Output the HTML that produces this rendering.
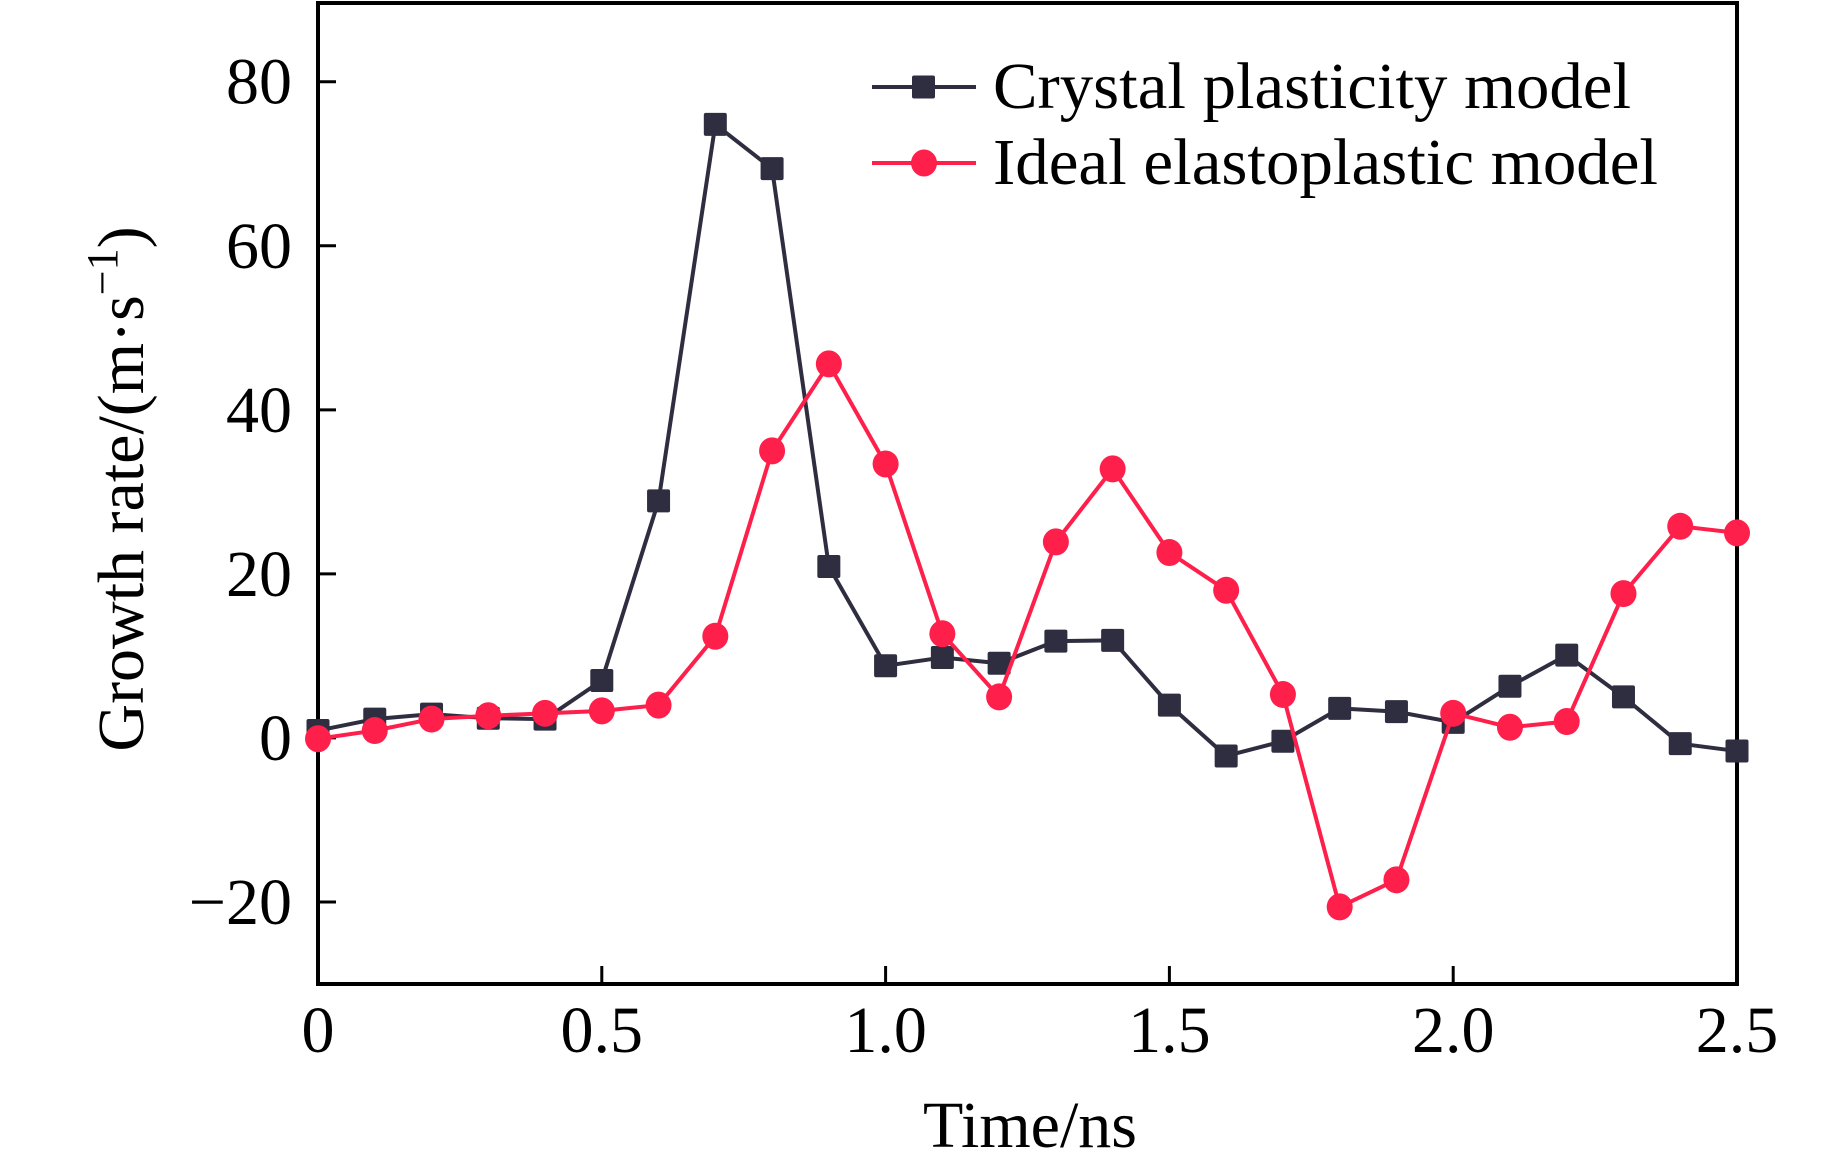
<!DOCTYPE html>
<html><head><meta charset="utf-8"><style>
html,body{margin:0;padding:0;background:#fff;}
svg{display:block;font-family:"Liberation Serif",serif;}
</style></head><body>
<svg id="chart" width="1843" height="1168" viewBox="0 0 1843 1168">
<g id="plot"></g>
</svg>
<script>
const xVals=[0,0.1,0.2,0.3,0.4,0.5,0.6,0.7,0.8,0.9,1.0,1.1,1.2,1.3,1.4,1.5,1.6,1.7,1.8,1.9,2.0,2.1,2.2,2.3,2.4,2.5];
const crystalVals=[0.9,2.3,2.9,2.4,2.3,7.0,28.9,74.8,69.4,20.9,8.8,9.8,9.1,11.8,11.9,4.0,-2.2,-0.4,3.6,3.2,1.9,6.3,10.1,5.0,-0.7,-1.6];
const idealVals=[-0.1,0.9,2.3,2.7,3.0,3.3,4.0,12.4,35.0,45.6,33.4,12.7,5.0,23.9,32.8,22.6,18.0,5.3,-20.6,-17.3,3.0,1.3,2.0,17.6,25.8,25.0];
const xTicks=[0,0.5,1.0,1.5,2.0,2.5];
const xTickLabels=["0","0.5","1.0","1.5","2.0","2.5"];
const yTicks=[-20,0,20,40,60,80];
const yTickLabels=["\u221220","0","20","40","60","80"];

const L=318,R=1737,T=3,B=984;
const xMin=0,xMax=2.5,yMin=-30,yMax=89.6;
const sx=v=>L+(v-xMin)/(xMax-xMin)*(R-L);
const sy=v=>B-(v-yMin)/(yMax-yMin)*(B-T);
const NS="http://www.w3.org/2000/svg";
const g=document.getElementById('plot');
function mk(tag,attrs,parent){const e=document.createElementNS(NS,tag);for(const k in attrs)e.setAttribute(k,attrs[k]);(parent||g).appendChild(e);return e;}

// frame
const frame=mk('rect',{x:L,y:T,width:R-L,height:B-T,fill:'none',stroke:'#000','stroke-width':4});



// x ticks
xTicks.forEach((t,i)=>{
  const x=sx(t);
  const tk=mk('line',{x1:x,y1:B,x2:x,y2:B-18,stroke:'#000','stroke-width':3});
  
  
  const lb=mk('text',{x:x,y:1052,'font-size':66,'text-anchor':'middle'});
  lb.textContent=xTickLabels[i];
  
  
});
// y ticks
yTicks.forEach((t,i)=>{
  const y=sy(t);
  const tk=mk('line',{x1:L,y1:y,x2:L+18,y2:y,stroke:'#000','stroke-width':3});
  
  
  const lb=mk('text',{x:292,y:y+22,'font-size':66,'text-anchor':'end'});
  lb.textContent=yTickLabels[i];
  
  
});

function series(vals,color,shape,name){
  const pts=vals.map((v,i)=>sx(xVals[i])+','+sy(v)).join(' ');
  const pl=mk('polyline',{points:pts,fill:'none',stroke:color,'stroke-width':4,'stroke-linejoin':'round'});
  
  
  vals.forEach((v,i)=>{
    const x=sx(xVals[i]),y=sy(v);
    let m;
    if(shape==='square'){m=mk('rect',{x:x-11.5,y:y-11.5,width:23,height:23,rx:2,fill:color});}
    else{m=mk('ellipse',{cx:x,cy:y,rx:13,ry:13.5,fill:color});}
    
    
  });
}
series(crystalVals,'#2e2e40','square','crystal-plasticity');
series(idealVals,'#ff1f4b','circle','ideal-elastoplastic');

// legend
const lg=mk('g',{});


const l1=mk('line',{x1:872,y1:87,x2:976,y2:87,stroke:'#2e2e40','stroke-width':4},lg);


const m1=mk('rect',{x:912,y:75.5,width:23,height:23,rx:2,fill:'#2e2e40'},lg);


const t1=mk('text',{x:993,y:108,'font-size':66,textLength:638,lengthAdjust:'spacingAndGlyphs'},lg);
t1.textContent='Crystal plasticity model';


const l2=mk('line',{x1:872,y1:163,x2:976,y2:163,stroke:'#ff1f4b','stroke-width':4},lg);


const m2=mk('ellipse',{cx:924,cy:163,rx:13,ry:13.5,fill:'#ff1f4b'},lg);


const t2=mk('text',{x:993,y:184,'font-size':66,textLength:665,lengthAdjust:'spacingAndGlyphs'},lg);
t2.textContent='Ideal elastoplastic model';



// axis titles
const xt=mk('text',{x:1030,y:1147,'font-size':66,'text-anchor':'middle'});
xt.textContent='Time/ns';


const yt=mk('text',{x:0,y:0,'font-size':66,'text-anchor':'middle',transform:'translate(143,489) rotate(-90)'});
yt.innerHTML='Growth rate/(m·s<tspan font-size="44" dy="-26">−1</tspan><tspan dy="26">)</tspan>';


</script>
</body></html>
